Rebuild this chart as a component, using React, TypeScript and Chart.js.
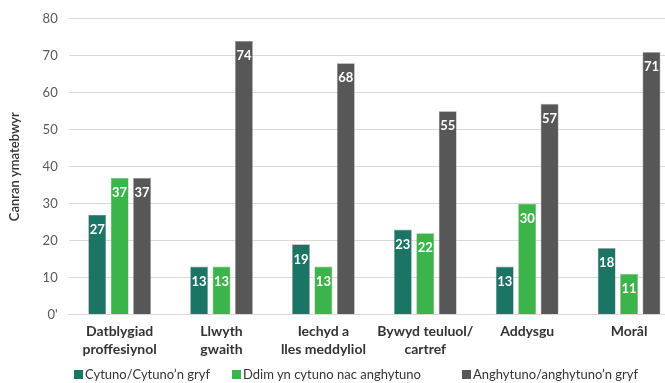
import React, { useEffect, useRef } from "react";
import { Chart, registerables } from "chart.js";

Chart.register(...registerables);

const categories: string[][] = [
  ["Datblygiad", "proffesiynol"],
  ["Llwyth", "gwaith"],
  ["Iechyd a", "lles meddyliol"],
  ["Bywyd teuluol/", "cartref"],
  ["Addysgu"],
  ["Morâl"],
];
const seriesNames = [
  "Cytuno/Cytuno’n gryf",
  "Ddim yn cytuno nac anghytuno",
  "Anghytuno/anghytuno’n gryf",
];
const agree = [27, 13, 19, 23, 13, 18];
const neutral = [37, 13, 13, 22, 30, 11];
const disagree = [37, 74, 68, 55, 57, 71];
const yTicks = [0, 10, 20, 30, 40, 50, 60, 70, 80];
const yTitle = "Canran ymatebwyr";

const colors = ["#1b7565", "#3bb54a", "#575757"];
const FONT = "Lato, 'Noto Sans', sans-serif";

const labelPlugin = {
  id: "barLabels",
  afterDatasetsDraw(chart: any) {
    const ctx = chart.ctx;
    ctx.save();
    ctx.fillStyle = "#ffffff";
    ctx.font = `bold 13px ${FONT}`;
    ctx.textAlign = "center";
    ctx.textBaseline = "middle";
    chart.data.datasets.forEach((ds: any, i: number) => {
      const meta = chart.getDatasetMeta(i);
      meta.data.forEach((bar: any, j: number) => {
        ctx.fillText(String(ds.data[j]), bar.x, bar.y + 15);
      });
    });
    ctx.restore();
  },
};

const legendGaps = [22, 41, 0];

export default function App() {
  const ref = useRef<HTMLCanvasElement>(null);
  useEffect(() => {
    if (!ref.current) return;
    const chart = new Chart(ref.current, {
      type: "bar",
      data: {
        labels: categories,
        datasets: [agree, neutral, disagree].map((d, i) => ({
          label: seriesNames[i],
          data: d,
          backgroundColor: colors[i],
          borderColor: "#a0a0a0",
          borderWidth: 0.6,
          categoryPercentage: 0.66,
          barPercentage: 0.8,
        })),
      },
      options: {
        animation: false,
        responsive: false,
        maintainAspectRatio: false,
        layout: { padding: { top: 12, right: 0, left: 7, bottom: 16 } },
        plugins: {
          tooltip: { enabled: false },
          legend: { display: false },
        },
        scales: {
          x: {
            grid: { display: false, drawTicks: false },
            border: { display: true, color: "#d9d9d9", width: 1 },
            ticks: {
              font: { family: FONT, size: 14, weight: "bold", lineHeight: 1.3 },
              color: "#333333",
              padding: 8,
              maxRotation: 0,
              autoSkip: false,
            },
          },
          y: {
            min: 0,
            max: 80,
            afterBuildTicks: (axis: any) => {
              axis.ticks = yTicks.map((v) => ({ value: v }));
            },
            grid: { color: "#d9d9d9", drawTicks: false },
            border: { display: false },
            ticks: {
              font: { family: FONT, size: 13 },
              color: "#595959",
              padding: 11,
              callback: (v: any) => (v === 0 ? "0'" : String(v)),
            },
            title: {
              display: true,
              text: yTitle,
              font: { family: FONT, size: 13, weight: "600" },
              color: "#333333",
              padding: { top: 0, bottom: 9 },
            },
          },
        },
      },
      plugins: [labelPlugin],
    });
    return () => chart.destroy();
  }, []);
  return (
    <div
      style={{
        position: "fixed",
        left: 0,
        top: 0,
        width: 665,
        height: 383,
        overflow: "hidden",
        background: "#fff",
      }}
    >
      <canvas ref={ref} width={680} height={383} style={{ width: 680, height: 383, display: "block" }} />
      <div
        style={{
          position: "absolute",
          left: 74,
          top: 366,
          display: "flex",
          alignItems: "center",
          fontFamily: FONT,
          fontSize: 13,
          color: "#333333",
          whiteSpace: "nowrap",
          lineHeight: "16px",
        }}
      >
        {seriesNames.map((name, i) => (
          <div key={name} style={{ display: "flex", alignItems: "center", marginRight: legendGaps[i] }}>
            <span style={{ display: "inline-block", width: 9, height: 9, background: colors[i], marginRight: 2 }} />
            <span>{name}</span>
          </div>
        ))}
      </div>
    </div>
  );
}
